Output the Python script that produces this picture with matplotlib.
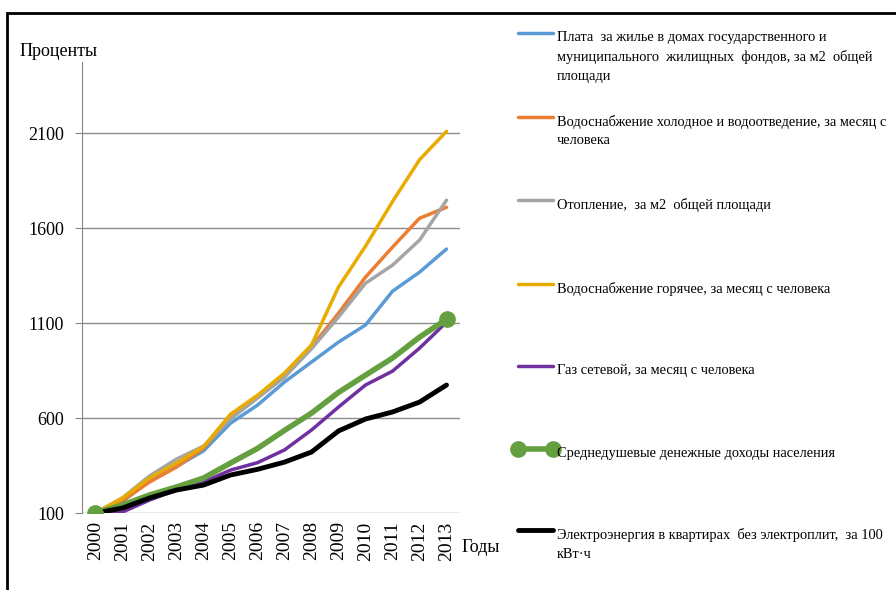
import matplotlib
matplotlib.use("Agg")
import matplotlib.pyplot as plt
from matplotlib.lines import Line2D
from matplotlib.patches import Rectangle

plt.rcParams['font.family'] = ['Liberation Serif', 'DejaVu Serif']

years = [str(y) for y in range(2000, 2014)]

# index values, 2000 = 100
housing = [100, 160, 270, 345, 427, 573, 668, 790, 895, 1000, 1090, 1268, 1368, 1490]
cold_water = [100, 165, 263, 342, 442, 600, 710, 816, 975, 1152, 1342, 1500, 1652, 1710]
heating = [100, 180, 295, 384, 452, 595, 705, 816, 965, 1132, 1310, 1405, 1537, 1747]
hot_water = [100, 179, 284, 363, 449, 620, 720, 837, 985, 1290, 1505, 1740, 1960, 2110]
gas = [100, 105, 168, 221, 263, 326, 365, 432, 537, 658, 774, 847, 968, 1105]
income = [100, 142, 195, 237, 284, 363, 440, 535, 626, 735, 826, 916, 1026, 1120]
electricity = [100, 126, 179, 221, 247, 300, 330, 368, 421, 532, 595, 632, 684, 774]

labels = [
    "Плата  за жилье в домах государственного и\nмуниципального  жилищных  фондов, за м2  общей\nплощади",
    "Водоснабжение холодное и водоотведение, за месяц с\nчеловека",
    "Отопление,  за м2  общей площади",
    "Водоснабжение горячее, за месяц с человека",
    "Газ сетевой, за месяц с человека",
    "Среднедушевые денежные доходы населения",
    "Электроэнергия в квартирах  без электроплит,  за 100\nкВт·ч",
]
colors = ['#5B9BD5', '#ED7D31', '#A5A5A5', '#E8AC00', '#7030A0', '#64A03F', '#000000']
widths = [2.5, 2.5, 2.5, 2.5, 2.5, 4, 3.5]

fig = plt.figure(figsize=(8.96, 5.9), dpi=100)
ax = fig.add_axes([0.0915, 0.1305, 0.4219, 0.7644])

x = list(range(len(years)))
series = [housing, cold_water, heating, hot_water, gas, income, electricity]
for vals, c, w in zip(series, colors, widths):
    ax.plot(x, vals, color=c, lw=w, solid_capstyle='round', solid_joinstyle='round')
# markers at the ends of the income line
ax.plot([x[0], x[-1]], [income[0], income[-1]], 'o', color=colors[5], ms=11, zorder=5)

ax.set_xlim(-0.5, 13.5)
ax.set_ylim(100, 2475)
ax.set_yticks([100, 600, 1100, 1600, 2100])
ax.set_xticks(x)
ax.set_xticklabels(years, rotation=90, fontsize=14)
ax.tick_params(axis='x', length=0, pad=6)
ax.tick_params(axis='y', length=5, color='#868686', labelsize=13, pad=8)
ax.grid(axis='y', color='#8c8c8c', lw=1)
ax.set_axisbelow(True)
for s in ['top', 'right', 'bottom']:
    ax.spines[s].set_visible(False)
ax.spines['left'].set_color('#868686')

fig.text(20 / 896, 1 - 52 / 590, "Проценты", fontsize=13, va='center', ha='left')
fig.text(462 / 896, 1 - 548 / 590, "Годы", fontsize=13, va='center', ha='left')

# legend, drawn by hand to keep Excel-like spacing
ys = [33, 117, 200, 284, 366, 449, 530]
for lab, c, w, yy in zip(labels, colors, widths, ys):
    yf = 1 - yy / 590
    fig.add_artist(Line2D([518 / 896, 553 / 896], [yf, yf], color=c, lw=w,
                          solid_capstyle='round'))
    if c == colors[5]:
        fig.add_artist(Line2D([518 / 896, 553 / 896], [yf, yf], color=c, lw=0,
                              marker='o', ms=11))
    fig.text(557 / 896, yf + 2 / 590, lab, fontsize=10.4, va='top', ha='left',
             linespacing=1.55)

# outer frame (only top and left visible)
fig.add_artist(Rectangle((7 / 896, -0.5), 2, 1.5 - 13 / 590, transform=fig.transFigure,
                         fill=False, ec='black', lw=2, clip_on=False))

fig.savefig("out.png", dpi=100)
